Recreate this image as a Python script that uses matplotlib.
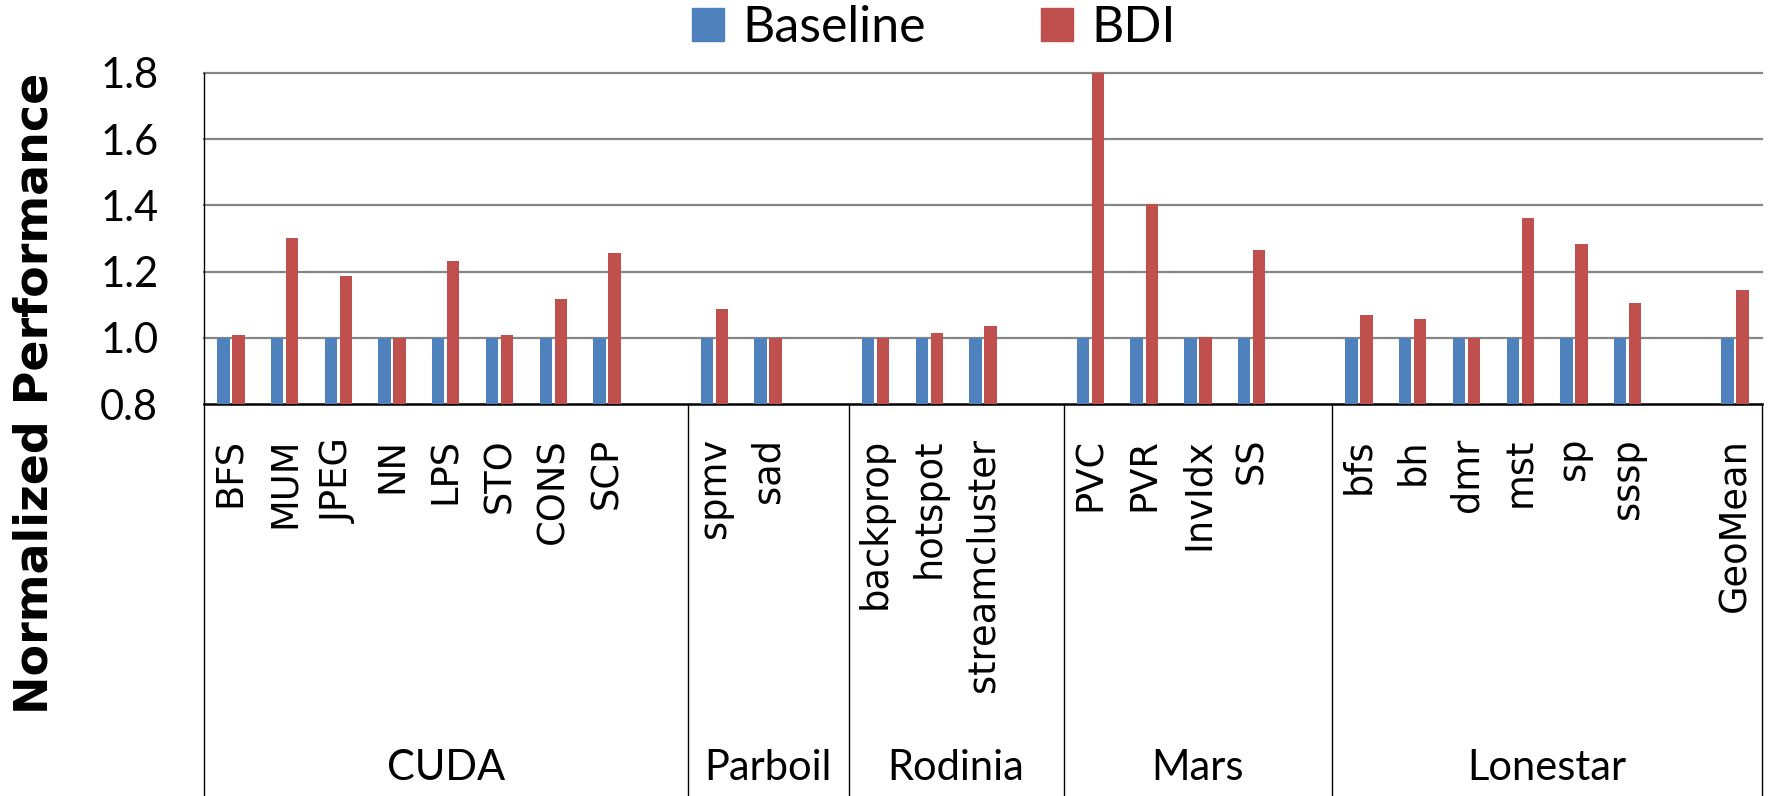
import numpy as np
import matplotlib.pyplot as plt
from matplotlib.patches import Patch
from matplotlib.transforms import blended_transform_factory

# Benchmarks per suite, normalized to the baseline
suites = ['CUDA', 'Parboil', 'Rodinia', 'Mars', 'Lonestar']

cuda = ['BFS', 'MUM', 'JPEG', 'NN', 'LPS', 'STO', 'CONS', 'SCP']
parboil = ['spmv', 'sad']
rodinia = ['backprop', 'hotspot', 'streamcluster']
mars = ['PVC', 'PVR', 'InvIdx', 'SS']
lonestar = ['bfs', 'bh', 'dmr', 'mst', 'sp', 'sssp']

base_cuda = [1.0, 1.0, 1.0, 1.0, 1.0, 1.0, 1.0, 1.0]
base_parboil = [1.0, 1.0]
base_rodinia = [1.0, 1.0, 1.0]
base_mars = [1.0, 1.0, 1.0, 1.0]
base_lonestar = [1.0, 1.0, 1.0, 1.0, 1.0, 1.0]

bdi_cuda = [1.007, 1.30, 1.188, 1.00, 1.232, 1.007, 1.118, 1.255]
bdi_parboil = [1.088, 1.00]
bdi_rodinia = [1.00, 1.016, 1.035]
bdi_mars = [1.80, 1.403, 1.003, 1.264]
bdi_lonestar = [1.07, 1.058, 1.00, 1.362, 1.282, 1.104]

geomean_base = 1.0
geomean_bdi = 1.144

blue = '#4F81BD'
red = '#C0504D'

# lay the benchmarks out, leaving an empty slot at the end of each suite
pos, names, base_vals, bdi_vals, spans = [], [], [], [], []
x = 0
for apps, base, bdi in zip([cuda, parboil, rodinia, mars, lonestar],
                           [base_cuda, base_parboil, base_rodinia, base_mars, base_lonestar],
                           [bdi_cuda, bdi_parboil, bdi_rodinia, bdi_mars, bdi_lonestar]):
    start = x
    for a, b0, b1 in zip(apps, base, bdi):
        pos.append(x)
        names.append(a)
        base_vals.append(b0)
        bdi_vals.append(b1)
        x += 1
    x += 1
    spans.append([start, x])
# GeoMean sits in the Lonestar box after its empty slot
pos.append(x)
names.append('GeoMean')
base_vals.append(geomean_base)
bdi_vals.append(geomean_bdi)
x += 1
spans[-1][1] = x
n_slots = x
pos = np.array(pos)

fig = plt.figure(figsize=(17.69, 7.96), dpi=100)
ax = fig.add_axes([204 / 1769, 1 - 404 / 796, (1762 - 204) / 1769, 331 / 796])

w = 0.23
ax.bar(pos - 0.14, np.array(base_vals) - 0.8, w, bottom=0.8, color=blue, zorder=3, label='Baseline')
ax.bar(pos + 0.14, np.array(bdi_vals) - 0.8, w, bottom=0.8, color=red, zorder=3, label='BDI')

ax.set_xlim(-0.5, n_slots - 0.5)
ax.set_ylim(0.8, 1.8)
for g in [1.0, 1.2, 1.4, 1.6, 1.8]:
    ax.axhline(g, color='#868686', lw=1.6, zorder=1, clip_on=False)

ax.set_yticks([0.8, 1.0, 1.2, 1.4, 1.6, 1.8])
ax.set_yticklabels(['0.8', '1.0', '1.2', '1.4', '1.6', '1.8'], family='Lato', fontsize=30)
ax.tick_params(axis='y', length=0, pad=33)
ax.set_xticks([])
for s in ['top', 'right', 'left']:
    ax.spines[s].set_visible(False)
ax.spines['bottom'].set_linewidth(1.8)
ax.spines['bottom'].set_color('black')

# category area under the axis
tr = blended_transform_factory(ax.transData, fig.transFigure)
axis_y = 1 - 404 / 796
ax.plot([-0.5, -0.5], [0, 1 - 73 / 796], color='black', lw=1, transform=tr, clip_on=False)
for start, end in spans:
    ax.plot([end - 0.5, end - 0.5], [0, axis_y], color='black', lw=1, transform=tr, clip_on=False)

for p, nm in zip(pos, names):
    ax.text(p, 1 - 438 / 796, nm, rotation=90, ha='center', va='top',
            family='DejaVu Sans', fontsize=26.5, transform=tr)

for name, (start, end) in zip(suites, spans):
    ax.text((start + end - 1) / 2, 1 - 768 / 796, name, ha='center', va='center',
            family='Lato', fontsize=30, transform=tr)

fig.text(35 / 1769, 1 - 393 / 796, 'Normalized Performance', rotation=90, ha='center', va='center',
         family='DejaVu Sans', fontweight='bold', fontsize=33)

handles = [Patch(color=blue, label='Baseline'), Patch(color=red, label='BDI')]
fig.legend(handles=handles, loc='center', bbox_to_anchor=(934 / 1769, 1 - 28 / 796), ncol=2,
           frameon=False, prop={'family': 'Lato', 'size': 36}, handlelength=0.64, handleheight=0.64,
           handletextpad=0.37, columnspacing=2.3, borderpad=0, borderaxespad=0)

fig.savefig('out.png', dpi=100)
